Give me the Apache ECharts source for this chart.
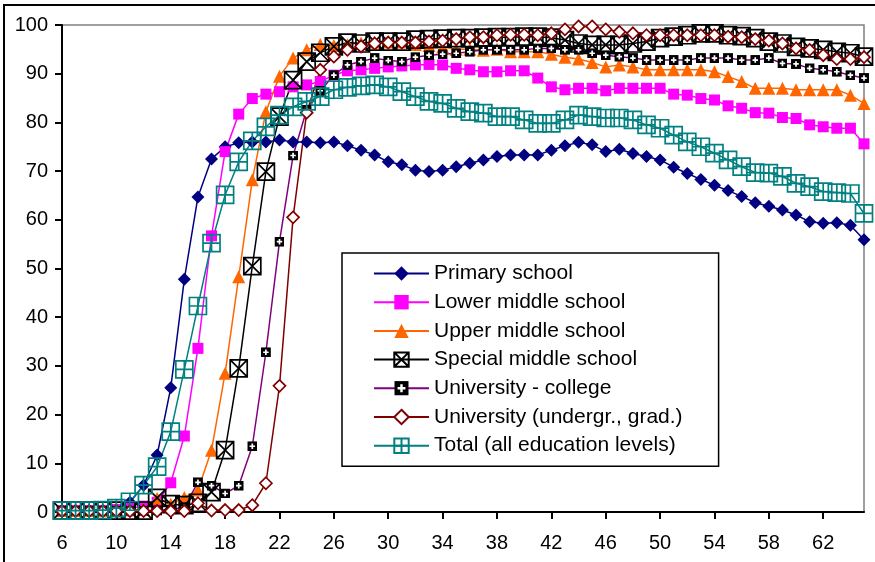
<!DOCTYPE html>
<html>
<head>
<meta charset="utf-8">
<script src="https://cdn.jsdelivr.net/npm/echarts@6/dist/echarts.min.js"></script>
<style>
html,body{margin:0;padding:0;background:#fff;}
#chart{width:875px;height:562px;}
</style>
</head>
<body>
<div id="chart"></div>
<script>
// Ages (categories)
var ages = [];
for (var a = 6; a <= 65; a++) ages.push(String(a));

var yTicks = [0,10,20,30,40,50,60,70,80,90,100];

var seriesNames = [
  'Primary school',
  'Lower middle school',
  'Upper middle school',
  'Special middle school',
  'University - college',
  'University (undergr., grad.)',
  'Total (all education levels)'
];

var primary = [0.3,0.3,0.3,0.3,0.5,2,5.5,11.7,25.5,47.8,64.7,72.5,75,75.8,76,76,76.4,76,76,75.8,76,75.2,74.3,73.3,71.9,71.3,70.2,69.9,70.2,70.9,71.6,72.3,73,73.3,73.3,73.3,74.3,75.2,75.9,75.4,74,74.5,73.6,73,72.3,70.8,69.5,68.3,67.1,66,64.8,63.5,62.8,62,61,59.6,59.3,59.4,58.9,55.9];

var lowerMiddle = [0.3,0.3,0.3,0.3,0.5,0.8,1.2,2,6,15.6,33.6,56.7,74,81.7,84.9,85.8,86.3,87.3,87.7,88.4,89.7,90.6,90.8,91.1,91.4,91.6,91.8,91.9,91.8,91.1,90.8,90.4,90.4,90.6,90.6,89.1,87.3,86.7,87,87,86.5,87,87,87,87,85.8,85.6,84.9,84.6,83.4,82.9,82,81.9,81,80.8,79.5,79.1,78.8,78.8,75.6];

var upperMiddle = [0.3,0.3,0.3,0.3,0.3,0.4,0.5,2.8,1.6,3,4.5,12.7,28.5,48.3,68.2,82.2,89.5,93.2,94.9,96,95.8,96,96.3,96.5,96.5,96.5,96,95.8,95.5,95,95,94.8,95,94.5,94.5,94.5,94,93.4,93,92.3,91.4,91.8,91.4,90.8,90.8,90.8,90.8,90.8,90.4,89.4,88.4,87,87,87,86.7,86.7,86.7,86.7,85.6,83.9];

var specialMiddle = [0.3,0.3,0.3,0.3,0.3,0.3,0.3,2.9,1.6,1.4,1.9,4.1,12.7,29.5,50.5,69.9,81.2,88.7,92.5,94.3,95.6,96.4,96.2,96.6,96.6,96.6,97,97.1,97.2,97.3,97.3,97.4,97.5,97.5,97.6,97.6,97.4,96.9,96.2,95.9,95.9,95.9,96.2,96.6,97.3,97.6,97.9,98.3,98.3,97.9,97.7,97.3,96.6,96.2,95.5,95.2,94.9,94.5,94.2,93.5];

var univCollege = [0.3,0.3,0.3,0.3,0.3,0.3,0.3,0.3,0.5,1,6.1,5.4,3.8,5.4,13.5,32.8,55.5,73.2,82.6,86.5,89.7,91.8,92.5,93.2,92.7,92.5,93.4,93.8,94,94.2,94.5,94.9,94.9,94.9,94.9,95.2,95.2,94.9,94.9,94.2,93.8,93.5,93.2,92.8,92.8,92.8,92.8,93.2,93.2,93.2,92.8,92.8,93.2,92.1,92,91.1,90.8,90.4,89.7,89.1];

var univUndergrad = [0.2,0.2,0.2,0.2,0.2,0.2,0.2,0.2,0.2,0.2,1.8,0.3,0.4,0.4,1.4,5.9,25.9,60.5,82,90.8,93.5,94.9,95.6,96.2,96.4,96.4,96.4,96.6,96.8,97.1,97.5,97.5,97.9,98,98,97.9,98.3,99.1,99.7,99.7,99.1,98.6,98.3,97.9,97.9,97.9,97.9,97.9,97.9,97.6,97.5,97.1,96.8,96.2,95.2,94.9,93.8,93,93,93.4];

var total = [0.3,0.3,0.3,0.4,0.8,2.1,5.5,9.3,16.5,29.3,42.3,55.2,65.1,71.9,76.2,79.1,81.5,83.2,84.3,85.3,86.7,87.2,87.5,87.7,87.3,86.3,85.3,84.3,83.9,82.9,82.2,81.9,81.2,81.2,80.5,79.8,79.8,80.5,81.5,81.2,80.9,80.9,80.5,79.5,78.8,77.4,76,75,73.7,72.3,70.9,69.7,69.6,68.9,67.5,66.8,65.8,65.6,65.4,61.3];

var seriesData = [primary, lowerMiddle, upperMiddle, specialMiddle, univCollege, univUndergrad, total];

// Symbols
var xBox = 'path://M0,0L20,0L20,20L0,20Z M0,0L20,20 M20,0L0,20';
var plusBox = 'path://M0,0L20,0L20,20L0,20Z M10,0L10,20 M0,10L20,10';
var collegeSvg = "<svg xmlns='http://www.w3.org/2000/svg' width='20' height='20' viewBox='0 0 20 20'><rect width='20' height='20' fill='black'/><path d='M10 4.5V15.5M4.5 10H15.5' stroke='white' stroke-width='3.4'/></svg>";
var collegeSym = 'image://data:image/svg+xml;charset=utf-8,' + encodeURIComponent(collegeSvg);

var styles = [
  {line:'#000080', symbol:'diamond', size:13, item:{color:'#000080'}},
  {line:'#FF00FF', symbol:'rect', size:11, item:{color:'#FF00FF'}},
  {line:'#FF6600', symbol:'triangle', size:13, item:{color:'#FF6600'}},
  {line:'#000000', symbol:xBox, size:17, item:{color:'rgba(255,255,255,0)', borderColor:'#000000', borderWidth:1.7}},
  {line:'#800080', symbol:collegeSym, size:10, item:{color:'#000000'}},
  {line:'#800000', symbol:'diamond', size:12, item:{color:'#ffffff', borderColor:'#800000', borderWidth:1.7}},
  {line:'#008080', symbol:plusBox, size:17, item:{color:'rgba(255,255,255,0)', borderColor:'#008080', borderWidth:1.7}}
];

var series = seriesNames.map(function(n, i){
  var s = styles[i];
  return {
    name: n,
    type: 'line',
    data: seriesData[i],
    symbol: s.symbol,
    symbolSize: s.size,
    symbolKeepAspect: true,
    showAllSymbol: true,
    lineStyle: {color: s.line, width: 1.5},
    itemStyle: s.item,
    emphasis: {disabled: true}
  };
});

var chart = echarts.init(document.getElementById('chart'), null, {renderer:'canvas'});
chart.setOption({
  animation: false,
  backgroundColor: '#ffffff',
  textStyle: {fontFamily: 'Liberation Sans, Arial, sans-serif'},
  graphic: [{
    type: 'rect',
    shape: {x: 4, y: 5, width: 900, height: 600},
    style: {fill: 'none', stroke: '#000', lineWidth: 2},
    silent: true,
    z: 0
  }],
  grid: {
    left: 62, right: 11, top: 25, bottom: 50,
    show: true, borderColor: '#808080', borderWidth: 1.5, backgroundColor: 'transparent'
  },
  legend: {
    orient: 'vertical',
    left: 342, top: 253,
    padding: [10, 36, 10, 31],
    itemWidth: 55, itemHeight: 18, itemGap: 7.7,
    borderColor: '#000', borderWidth: 1.5,
    backgroundColor: '#fff',
    selectedMode: false,
    textStyle: {fontSize: 21, color: '#000', fontFamily: 'Liberation Sans, Arial, sans-serif'},
    data: seriesNames
  },
  xAxis: {
    type: 'category',
    data: ages,
    boundaryGap: false,
    axisLine: {lineStyle: {color: '#000', width: 2}},
    axisTick: {show: true, interval: 3, length: 7, lineStyle: {color: '#000', width: 2}},
    axisLabel: {interval: 3, fontSize: 20, color: '#000', margin: 21, fontFamily: 'Liberation Sans, Arial, sans-serif'},
    splitLine: {show: false}
  },
  yAxis: {
    type: 'value',
    min: 0, max: 100, interval: 10,
    axisLine: {show: true, lineStyle: {color: '#000', width: 2}},
    axisTick: {show: true, length: 7, lineStyle: {color: '#000', width: 2}},
    axisLabel: {fontSize: 20, color: '#000', margin: 14, fontFamily: 'Liberation Sans, Arial, sans-serif',
      formatter: function(v){ return yTicks.indexOf(v) >= 0 ? String(v) : ''; }},
    splitLine: {show: false}
  },
  series: series
});
</script>
</body>
</html>
